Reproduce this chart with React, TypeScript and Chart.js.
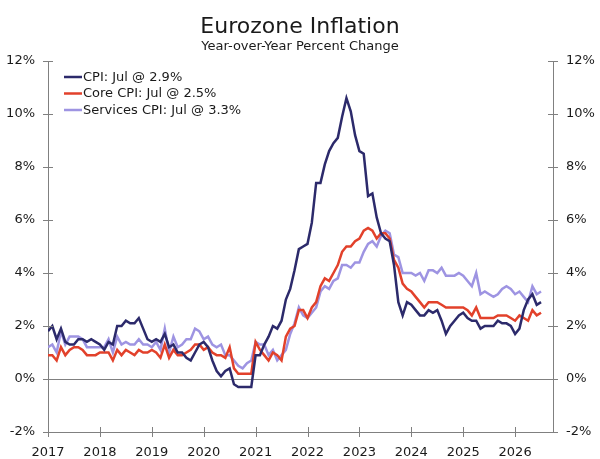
import { useEffect, useRef } from "react";
import { Chart, registerables, type Plugin } from "chart.js";

Chart.register(...registerables);

// monthly, Jan 2017 .. Jul 2026
const START_YEAR = 2017;
const YEAR_TICKS = [2017, 2018, 2019, 2020, 2021, 2022, 2023, 2024, 2025, 2026];
const PCT_TICKS = [-2, 0, 2, 4, 6, 8, 10, 12];

const cpi = [
  1.8, 2.0, 1.5, 1.9, 1.4, 1.3, 1.3, 1.5, 1.5, 1.4, 1.5, 1.4,
  1.3, 1.1, 1.4, 1.3, 2.0, 2.0, 2.2, 2.1, 2.1, 2.3, 1.9, 1.5,
  1.4, 1.5, 1.4, 1.7, 1.2, 1.3, 1.0, 1.0, 0.8, 0.7, 1.0, 1.3,
  1.4, 1.2, 0.7, 0.3, 0.1, 0.3, 0.4, -0.2, -0.3, -0.3, -0.3, -0.3,
  0.9, 0.9, 1.3, 1.6, 2.0, 1.9, 2.2, 3.0, 3.4, 4.1, 4.9, 5.0,
  5.1, 5.9, 7.4, 7.4, 8.1, 8.6, 8.9, 9.1, 9.9, 10.6, 10.1, 9.2,
  8.6, 8.5, 6.9, 7.0, 6.1, 5.5, 5.3, 5.2, 4.3, 2.9, 2.4, 2.9,
  2.8, 2.6, 2.4, 2.4, 2.6, 2.5, 2.6, 2.2, 1.7, 2.0, 2.2, 2.4,
  2.5, 2.3, 2.2, 2.2, 1.9, 2.0, 2.0, 2.0, 2.2, 2.1, 2.1, 2.0,
  1.7, 1.9, 2.6, 3.0, 3.2, 2.8, 2.9,
];

const core = [
  0.9, 0.9, 0.7, 1.2, 0.9, 1.1, 1.2, 1.2, 1.1, 0.9, 0.9, 0.9,
  1.0, 1.0, 1.0, 0.7, 1.1, 0.9, 1.1, 1.0, 0.9, 1.1, 1.0, 1.0,
  1.1, 1.0, 0.8, 1.3, 0.8, 1.1, 0.9, 0.9, 1.0, 1.1, 1.3, 1.3,
  1.1, 1.2, 1.0, 0.9, 0.9, 0.8, 1.2, 0.4, 0.2, 0.2, 0.2, 0.2,
  1.4, 1.1, 0.9, 0.7, 1.0, 0.9, 0.7, 1.6, 1.9, 2.0, 2.6, 2.6,
  2.3, 2.7, 2.9, 3.5, 3.8, 3.7, 4.0, 4.3, 4.8, 5.0, 5.0, 5.2,
  5.3, 5.6, 5.7, 5.6, 5.3, 5.5, 5.5, 5.3, 4.5, 4.2, 3.6, 3.4,
  3.3, 3.1, 2.9, 2.7, 2.9, 2.9, 2.9, 2.8, 2.7, 2.7, 2.7, 2.7,
  2.7, 2.6, 2.4, 2.7, 2.3, 2.3, 2.3, 2.3, 2.4, 2.4, 2.4, 2.3,
  2.2, 2.4, 2.3, 2.2, 2.6, 2.4, 2.5,
];

const services = [
  1.2, 1.3, 1.0, 1.8, 1.3, 1.6, 1.6, 1.6, 1.5, 1.2, 1.2, 1.2,
  1.2, 1.2, 1.5, 1.0, 1.6, 1.3, 1.4, 1.3, 1.3, 1.5, 1.3, 1.3,
  1.2, 1.4, 1.1, 1.9, 1.0, 1.6, 1.2, 1.3, 1.5, 1.5, 1.9, 1.8,
  1.5, 1.6, 1.3, 1.2, 1.3, 0.9, 0.9, 0.7, 0.5, 0.4, 0.6, 0.7,
  1.4, 1.3, 1.3, 0.9, 1.1, 0.7, 0.9, 1.1, 1.7, 2.1, 2.7, 2.4,
  2.3, 2.5, 2.7, 3.3, 3.5, 3.4, 3.7, 3.8, 4.3, 4.3, 4.2, 4.4,
  4.4, 4.8, 5.1, 5.2, 5.0, 5.4, 5.6, 5.5, 4.7, 4.6, 4.0, 4.0,
  4.0, 3.9, 4.0, 3.7, 4.1, 4.1, 4.0, 4.2, 3.9, 3.9, 3.9, 4.0,
  3.9, 3.7, 3.5, 4.0, 3.2, 3.3, 3.2, 3.1, 3.2, 3.4, 3.5, 3.4,
  3.2, 3.3, 3.1, 2.9, 3.5, 3.2, 3.3,
];

const seriesNames = ["CPI: Jul @ 2.9%", "Core CPI: Jul @ 2.5%", "Services CPI: Jul @ 3.3%"];
const seriesColors = ["#2C2A6B", "#E2412B", "#9E94E2"];

const FONT = "'DejaVu Sans', Verdana, sans-serif";
const AXIS = "#808080";
const TEXT = "#1a1a1a";

// title, subtitle, in-plot legend and the little cross ticks
const decorations: Plugin<"line"> = {
  id: "decorations",
  afterDraw(chart) {
    const { ctx, chartArea, scales } = chart;
    ctx.save();
    ctx.fillStyle = TEXT;
    ctx.textAlign = "center";
    ctx.textBaseline = "middle";
    ctx.font = `22px ${FONT}`;
    ctx.fillText("Eurozone Inflation", 300, 27);
    ctx.font = `13px ${FONT}`;
    ctx.fillText("Year-over-Year Percent Change", 300, 47);

    // legend
    ctx.textAlign = "left";
    chart.data.datasets.forEach((ds, i) => {
      const y = 77 + i * 16.5;
      ctx.strokeStyle = ds.borderColor as string;
      ctx.lineWidth = 2.5;
      ctx.beginPath();
      ctx.moveTo(chartArea.left + 16, y);
      ctx.lineTo(chartArea.left + 34, y);
      ctx.stroke();
      ctx.fillStyle = TEXT;
      ctx.fillText(ds.label ?? "", chartArea.left + 35, y + 0.5);
    });

    // tick marks crossing the axes
    ctx.strokeStyle = AXIS;
    ctx.lineWidth = 1;
    ctx.beginPath();
    for (const t of scales.y.ticks) {
      const py = Math.round(scales.y.getPixelForValue(t.value)) + 0.5;
      ctx.moveTo(chartArea.left - 5, py);
      ctx.lineTo(chartArea.left + 5, py);
      ctx.moveTo(chartArea.right - 5, py);
      ctx.lineTo(chartArea.right + 5, py);
    }
    for (const t of scales.x.ticks) {
      const px = Math.round(scales.x.getPixelForValue(t.value)) + 0.5;
      ctx.moveTo(px, chartArea.bottom - 5);
      ctx.lineTo(px, chartArea.bottom + 5);
    }
    ctx.stroke();
    ctx.restore();
  },
};

const pctAxis = (position: "left" | "right", width: number) => ({
  position,
  min: -2,
  max: 12,
  afterBuildTicks: (scale: any) => {
    scale.ticks = PCT_TICKS.map((v) => ({ value: v }));
  },
  afterFit: (scale: any) => {
    scale.width = width;
  },
  ticks: {
    color: TEXT,
    padding: 13,
    font: { family: FONT, size: 13 },
    callback: (v: any) => `${v}%`,
  },
  border: { display: true, color: AXIS, width: 1 },
});

export default function App() {
  const canvasRef = useRef<HTMLCanvasElement>(null);

  useEffect(() => {
    document.body.style.margin = "0";
    if (!canvasRef.current) return;
    const toPoints = (vals: number[]) =>
      vals.map((v, i) => ({ x: START_YEAR + i / 12, y: v }));
    const all = [cpi, core, services];

    const chart = new Chart(canvasRef.current, {
      type: "line",
      data: {
        datasets: all.map((vals, i) => ({
          label: seriesNames[i],
          data: toPoints(vals),
          borderColor: seriesColors[i],
          backgroundColor: seriesColors[i],
          borderWidth: 2.5,
          pointRadius: 0,
          tension: 0,
          fill: false,
          yAxisID: "y",
        })),
      },
      options: {
        responsive: true,
        maintainAspectRatio: false,
        animation: false,
        layout: { padding: { top: 61, left: 0, right: 0, bottom: 0 } },
        plugins: {
          legend: { display: false },
          tooltip: { enabled: false },
          title: { display: false },
        },
        scales: {
          x: {
            type: "linear",
            min: 2017,
            max: 2026.73,
            afterBuildTicks: (scale) => {
              scale.ticks = YEAR_TICKS.map((v) => ({ value: v }));
            },
            afterFit: (scale) => {
              scale.height = 27;
            },
            ticks: {
              color: TEXT,
              padding: 5,
              maxRotation: 0,
              autoSkip: false,
              font: { family: FONT, size: 13 },
              callback: (v) => String(v),
            },
            grid: { display: false },
            border: { display: true, color: AXIS, width: 1 },
          },
          y: {
            ...pctAxis("left", 48),
            grid: {
              drawTicks: false,
              color: (c) => (c.tick && c.tick.value === 0 ? AXIS : "rgba(0,0,0,0)"),
            },
          },
          y2: {
            ...pctAxis("right", 47),
            grid: { display: false, drawTicks: false },
          },
        },
      },
      plugins: [decorations],
    });
    return () => chart.destroy();
  }, []);

  return (
    <div style={{ position: "relative", width: 600, height: 459 }}>
      <canvas ref={canvasRef} />
    </div>
  );
}
